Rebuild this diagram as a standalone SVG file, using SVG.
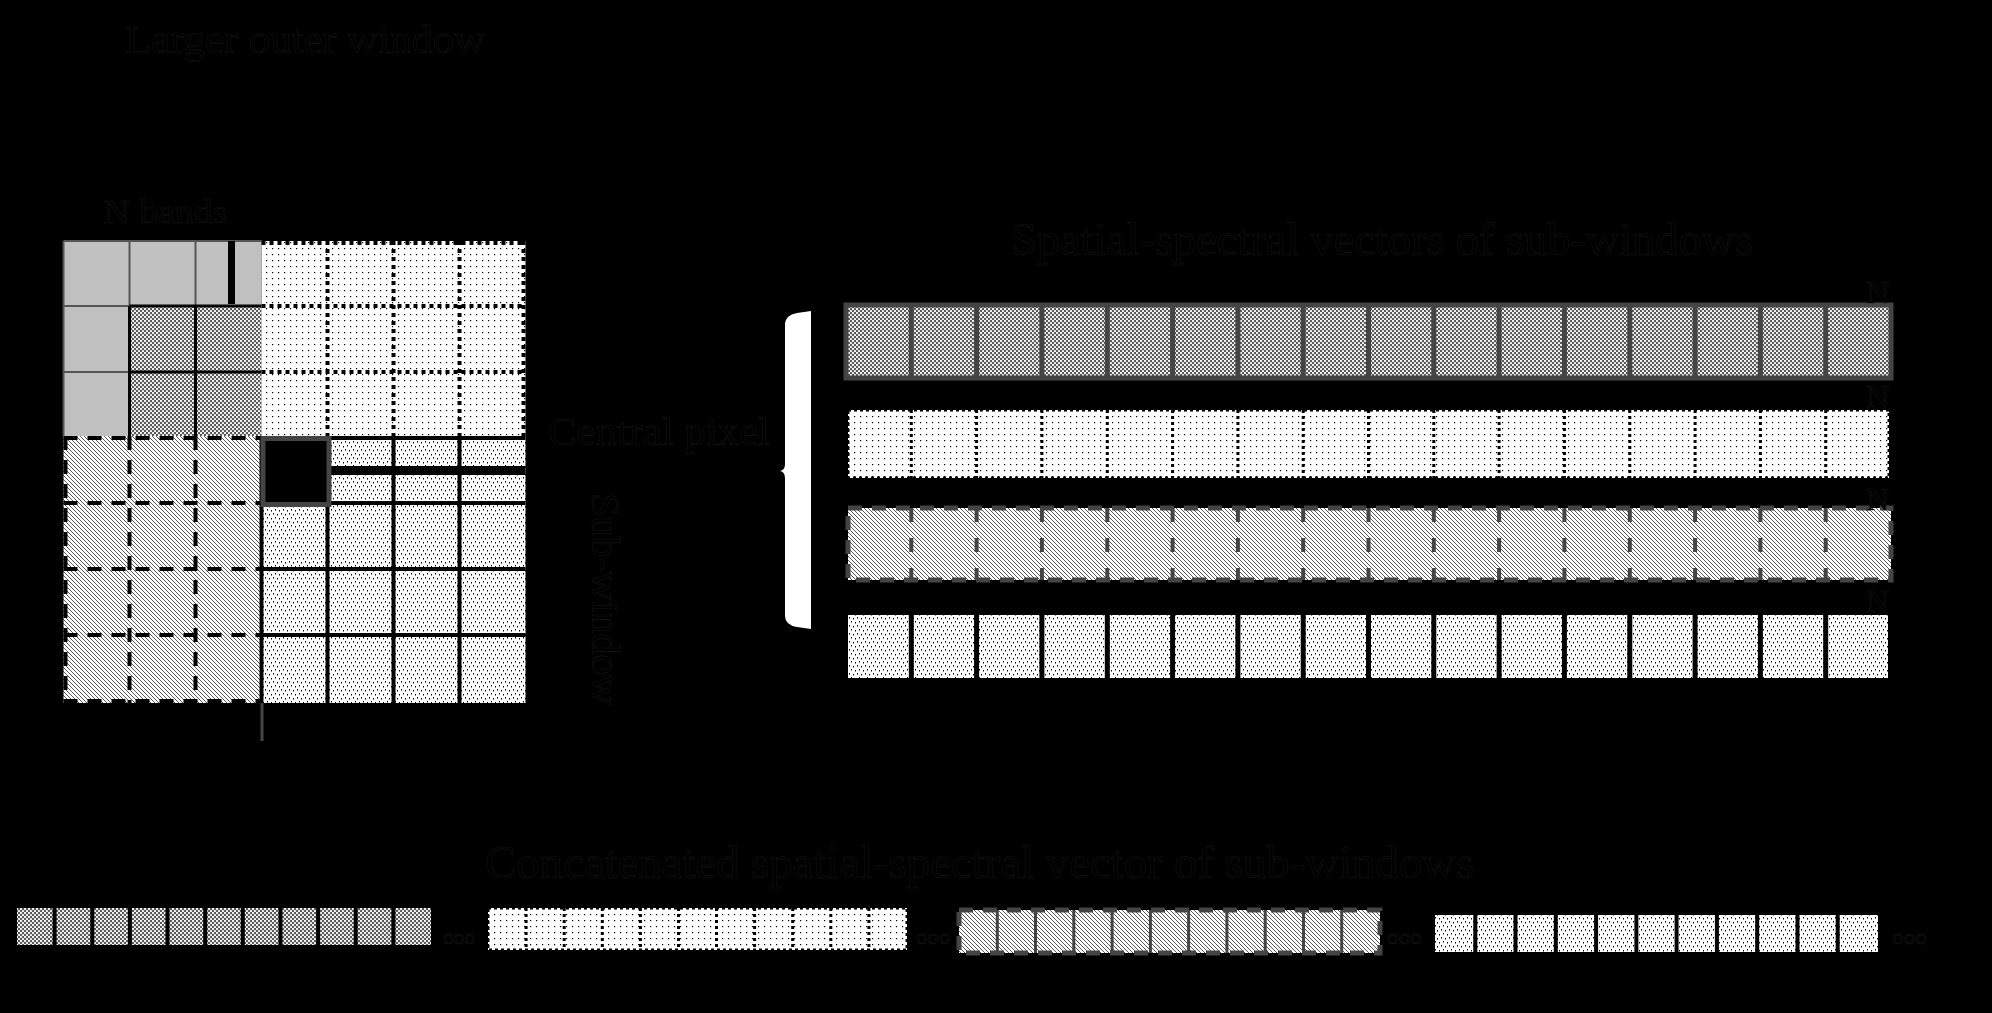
<svg xmlns="http://www.w3.org/2000/svg" width="1992" height="1013" viewBox="0 0 1992 1013">
<style>
text{font-family:"Liberation Serif","Times New Roman",serif;fill:#000;stroke:#151515;stroke-width:0.6}
.gl{fill:none;stroke:#555;stroke-width:2}
.bk{fill:none;stroke:#000;stroke-width:4}
.dot{fill:none;stroke:#000;stroke-width:4;stroke-dasharray:4 4}
.dash{fill:none;stroke:#000;stroke-width:4;stroke-dasharray:14 10}
.gdash{fill:none;stroke:#444;stroke-width:5;stroke-dasharray:14 10}
.gs{fill:none;stroke:#444;stroke-width:5}
</style>
<defs>
<pattern id="pChk" width="4" height="4" patternUnits="userSpaceOnUse">
<rect width="4" height="4" fill="#5a5a5a"/>
<circle cx="1" cy="1" r="1.1" fill="#fff"/>
<circle cx="3" cy="3" r="1.1" fill="#fff"/>
</pattern>
<pattern id="pDot" width="6" height="6" patternUnits="userSpaceOnUse">
<rect width="6" height="6" fill="#fff"/>
<rect x="2" y="2" width="1.2" height="1.2" fill="#000"/>
</pattern>
<pattern id="pHatch" width="4" height="4" patternUnits="userSpaceOnUse">
<rect width="4" height="4" fill="#fff"/>
<path d="M-1,-1L5,5M-1,3L1,5M3,-1L5,1" stroke="#000" stroke-width="0.65"/>
</pattern>
<pattern id="pScat" width="8" height="8" patternUnits="userSpaceOnUse">
<rect width="8" height="8" fill="#fff"/>
<rect x="1" y="1" width="1" height="1.5" fill="#000"/>
<rect x="5" y="2" width="1" height="1.5" fill="#000"/>
<rect x="3" y="5" width="1" height="1.5" fill="#000"/>
<rect x="7" y="6" width="1" height="1.5" fill="#000"/>
</pattern>
</defs>
<rect width="1992" height="1013" fill="#000"/>

<g id="labels">
<text x="125" y="53" font-size="40" textLength="360" lengthAdjust="spacingAndGlyphs">Larger outer window</text>
<text x="103" y="223" font-size="34" textLength="124" lengthAdjust="spacingAndGlyphs">N bands</text>
<text x="548" y="445" font-size="40" textLength="222" lengthAdjust="spacingAndGlyphs">Central pixel</text>
<text x="592" y="493" font-size="40" transform="rotate(90 592 493)" textLength="212" lengthAdjust="spacingAndGlyphs">Sub-window</text>
<text x="1011" y="255" font-size="46" textLength="742" lengthAdjust="spacingAndGlyphs">Spatial-spectral vectors of sub-windows</text>
<text x="485" y="878" font-size="47" textLength="989" lengthAdjust="spacingAndGlyphs">Concatenated spatial-spectral vector of sub-windows</text>
</g>

<g id="outer-window">
<rect x="63.5" y="241" width="198" height="195" fill="#c0c0c0"/>
<path class="gl" d="M63.5,241H261.5M63.5,241V436M129.5,241V306M195.5,241V306M63.5,306H129.5M63.5,372H129.5"/>
<rect x="228" y="241" width="7" height="63" fill="#000"/>
<rect x="129.5" y="306" width="132" height="130" fill="url(#pChk)"/>
<path d="M129.5,306H261.5M129.5,306V436M195.5,306V436M129.5,372H261.5" fill="none" stroke="#000" stroke-width="3"/>

<rect x="261.5" y="241" width="264" height="195" fill="url(#pDot)"/>
<path class="dot" d="M261.5,243H525.5M523.5,241V436M327.5,241V436M393.5,241V436M459.5,241V436M261.5,306H525.5M261.5,372H525.5"/>

<rect x="63.5" y="436" width="198" height="267" fill="url(#pHatch)"/>
<path class="dash" d="M63.5,438H261.5M65.5,436V703M63.5,701H261.5M129.5,436V703M195.5,436V703M63.5,503H261.5M63.5,569H261.5M63.5,635H261.5"/>

<rect x="261.5" y="436" width="264" height="267" fill="url(#pScat)"/>
<path class="bk" stroke-width="5" d="M261.5,436V703M327.5,436V703M393.5,436V703M459.5,436V703M261.5,503H525.5M261.5,569H525.5M261.5,635H525.5M261.5,438H525.5"/>
<rect x="329" y="466" width="196.5" height="9" fill="#000"/>
<rect x="263" y="438.5" width="66" height="66" fill="#000" stroke="#444" stroke-width="5"/>
<line x1="262" y1="703" x2="262" y2="741" stroke="#444" stroke-width="3"/>
</g>

<g id="brace">
<path d="M797,313Q785,315 785,325L785,464Q785,470 780,471Q785,472 785,478L785,616Q785,625 797,627L811,629L811,311Z" fill="#fff"/>
</g>

<g id="vector-bars">
<rect x="846" y="305" width="1045" height="73" fill="url(#pChk)" stroke="#444" stroke-width="5"/>
<path class="gs" d="M911.3,305V378M976.6,305V378M1041.9,305V378M1107.3,305V378M1172.6,305V378M1237.9,305V378M1303.2,305V378M1368.5,305V378M1433.8,305V378M1499.1,305V378M1564.4,305V378M1629.8,305V378M1695.1,305V378M1760.4,305V378M1825.7,305V378"/>
<text x="1889" y="303" font-size="32" text-anchor="end">N</text>

<rect x="848" y="410" width="1041" height="68" fill="url(#pDot)" stroke="#000" stroke-width="3" stroke-dasharray="3 3"/>
<path d="M911.3,410V478M976.6,410V478M1041.9,410V478M1107.3,410V478M1172.6,410V478M1237.9,410V478M1303.2,410V478M1368.5,410V478M1433.8,410V478M1499.1,410V478M1564.4,410V478M1629.8,410V478M1695.1,410V478M1760.4,410V478M1825.7,410V478" fill="none" stroke="#000" stroke-width="3" stroke-dasharray="3 3"/>
<text x="1889" y="407" font-size="32" text-anchor="end">N</text>

<rect x="848" y="508" width="1043" height="72" class="gdash" style="fill:url(#pHatch)"/>
<path d="M911.3,508V580M976.6,508V580M1041.9,508V580M1107.3,508V580M1172.6,508V580M1237.9,508V580M1303.2,508V580M1368.5,508V580M1433.8,508V580M1499.1,508V580M1564.4,508V580M1629.8,508V580M1695.1,508V580M1760.4,508V580M1825.7,508V580" fill="none" stroke="#444" stroke-width="4" stroke-dasharray="14 16"/>
<text x="1889" y="510" font-size="32" text-anchor="end">N</text>

<rect x="848" y="615" width="1040" height="63" fill="url(#pScat)"/>
<path d="M911.3,615V678M976.6,615V678M1041.9,615V678M1107.3,615V678M1172.6,615V678M1237.9,615V678M1303.2,615V678M1368.5,615V678M1433.8,615V678M1499.1,615V678M1564.4,615V678M1629.8,615V678M1695.1,615V678M1760.4,615V678M1825.7,615V678" fill="none" stroke="#000" stroke-width="5"/>
<text x="1889" y="612" font-size="32" text-anchor="end">N</text>
</g>

<g id="concatenated-vector">
<rect x="17" y="908" width="414" height="37" fill="url(#pChk)"/>
<path d="M54.6,908V945M92.3,908V945M129.9,908V945M167.5,908V945M205.2,908V945M242.8,908V945M280.5,908V945M318.1,908V945M355.7,908V945M393.4,908V945" fill="none" stroke="#000" stroke-width="4"/>
<text x="443" y="944" font-size="22" textLength="32" lengthAdjust="spacingAndGlyphs">ooo</text>

<rect x="488" y="908" width="419" height="42" fill="url(#pDot)" stroke="#000" stroke-width="3" stroke-dasharray="3 3"/>
<path d="M526.1,908V950M564.2,908V950M602.3,908V950M640.4,908V950M678.5,908V950M716.5,908V950M754.6,908V950M792.7,908V950M830.8,908V950M868.9,908V950" fill="none" stroke="#000" stroke-width="3" stroke-dasharray="3 3"/>
<text x="916" y="944" font-size="22" textLength="34" lengthAdjust="spacingAndGlyphs">ooo</text>

<rect x="959" y="910" width="421" height="43" class="gdash" style="fill:url(#pHatch)"/>
<path d="M997.3,910V953M1035.5,910V953M1073.8,910V953M1112.1,910V953M1150.4,910V953M1188.6,910V953M1226.9,910V953M1265.2,910V953M1303.5,910V953M1341.7,910V953" fill="none" stroke="#444" stroke-width="3"/>
<text x="1387" y="944" font-size="22" textLength="35" lengthAdjust="spacingAndGlyphs">ooo</text>

<rect x="1435" y="915" width="443" height="37" fill="url(#pScat)"/>
<path d="M1475.3,915V952M1515.5,915V952M1555.8,915V952M1596.1,915V952M1636.4,915V952M1676.6,915V952M1716.9,915V952M1757.2,915V952M1797.5,915V952M1837.7,915V952" fill="none" stroke="#000" stroke-width="4"/>
<text x="1892" y="944" font-size="22" textLength="35" lengthAdjust="spacingAndGlyphs">ooo</text>
</g>
</svg>
